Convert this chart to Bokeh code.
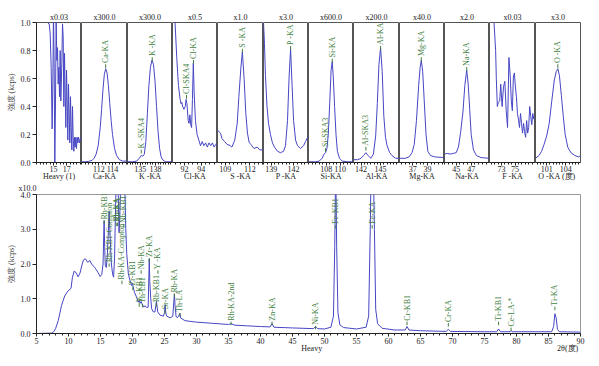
import numpy as np
from bokeh.plotting import figure
from bokeh.layouts import column, row
from bokeh.models import FixedTicker, PrintfTickFormatter, Range1d, LinearAxis
from bokeh.core.properties import value
from bokeh.embed import file_html
from bokeh.resources import INLINE

# ---------------- data ----------------
panel_names = ["Heavy (1)", "Ca-KA", "K -KA", "Cl-KA", "S -KA", "P -KA",
               "Si-KA", "Al-KA", "Mg-KA", "Na-KA", "F -KA", "O -KA  (度)"]
panel_scales = ["x0.03", "x300.0", "x300.0", "x0.5", "x1.0", "x3.0",
                "x600.0", "x200.0", "x40.0", "x2.0", "x0.03", "x3.0"]
panel_ticks = [[15, 17], [112, 114], [135, 138], [92, 94], [109, 112], [139, 142],
               [108, 110], [142, 145], [37, 39], [45, 47], [73, 75], [101, 104]]

heavy1_x = [14.15, 14.36, 14.5, 14.65, 14.8, 14.9, 15.0, 15.1, 15.2, 15.3,
            15.4, 15.5, 15.6, 15.7, 15.8, 15.9, 16.0, 16.1, 16.25, 16.35,
            16.45, 16.55, 16.65, 16.75, 16.85, 16.95, 17.05, 17.15, 17.25, 17.35,
            17.45, 17.55, 17.65, 17.75, 17.85, 17.95, 18.05, 18.15, 18.25, 18.35,
            18.45, 18.55, 18.65, 18.75, 18.9, 19.05]
heavy1_y = [0.995, 0.99, 0.92, 0.68, 0.24, 0.56, 1.09, 0.68, 0.0, 0.44,
            1.01, 0.73, 0.82, 0.56, 0.68, 0.47, 0.8, 0.44, 0.71, 0.99,
            0.9, 0.4, 0.78, 0.5, 0.25, 0.66, 0.44, 0.16, 0.56, 0.35,
            0.14, 0.47, 0.25, 0.09, 0.4, 0.18, 0.08, 0.18, 0.11, 0.18,
            0.1, 0.18, 0.14, 0.18, 0.14, 0.18]

ca_x = [109.45, 110.0, 110.5, 111.0, 111.3, 111.6, 111.9, 112.2, 112.4, 112.6, 112.8,
        113.0, 113.2, 113.4, 113.6, 113.8, 114.0, 114.3, 114.6, 115.0, 115.5, 116.2]
ca_y = [0.005, 0.005, 0.008, 0.015, 0.03, 0.06, 0.12, 0.25, 0.38, 0.52, 0.63,
        0.67, 0.64, 0.55, 0.42, 0.30, 0.20, 0.10, 0.05, 0.02, 0.01, 0.01]

k_x = [132.5, 133.5, 134.3, 134.8, 135.2, 135.5, 135.8, 136.1, 136.4, 136.7, 137.0,
       137.3, 137.6, 137.9, 138.2, 138.5, 138.8, 139.1, 139.5, 140.0, 141.33]
k_y = [0.005, 0.005, 0.01, 0.03, 0.05, 0.045, 0.06, 0.15, 0.35, 0.55, 0.68,
       0.73, 0.70, 0.58, 0.40, 0.22, 0.10, 0.04, 0.015, 0.005, 0.005]

cl_x = [90.6, 90.9, 91.1, 91.3, 91.5, 91.6, 91.7, 91.8, 91.95, 92.1,
        92.2, 92.3, 92.45, 92.55, 92.65, 92.75, 92.85, 92.95, 93.05, 93.15,
        93.3, 93.5, 93.7, 93.9, 94.1, 94.3, 94.5, 94.7, 94.9, 95.1,
        95.3, 95.5, 95.7, 95.9]
cl_y = [1.3, 1.0, 0.75, 0.55, 0.45, 0.42, 0.43, 0.40, 0.38, 0.40,
        0.45, 0.42, 0.30, 0.28, 0.34, 0.27, 0.25, 0.45, 0.71, 0.50,
        0.30, 0.20, 0.16, 0.12, 0.15, 0.12, 0.14, 0.11, 0.14, 0.12,
        0.14, 0.11, 0.13, 0.12]

s_x = [108.04, 108.4, 108.6, 108.9, 109.2, 109.6, 109.8, 110.15, 110.45, 110.65, 110.9,
       111.08, 111.3, 111.5, 111.7, 111.9, 112.1, 112.5, 112.9, 113.2, 113.66]
s_y = [0.23, 0.21, 0.17, 0.15, 0.13, 0.12, 0.11, 0.16, 0.28, 0.47, 0.68,
       0.79, 0.59, 0.35, 0.21, 0.145, 0.13, 0.10, 0.11, 0.09, 0.09]

p_x = [137.97, 138.1, 138.23, 138.44, 138.64, 138.9, 139.17, 139.44, 139.85, 140.25, 140.65,
       140.92, 141.19, 141.39, 141.6, 141.8, 142.0, 142.27, 142.53, 142.94, 143.34, 143.6, 144.0]
p_y = [1.0, 0.85, 0.62, 0.40, 0.28, 0.20, 0.14, 0.11, 0.08, 0.07, 0.08,
       0.12, 0.30, 0.60, 0.81, 0.55, 0.30, 0.16, 0.12, 0.10, 0.12, 0.15, 0.19]

si_x = [105.47, 106.5, 107.0, 107.4, 107.7, 107.9, 108.1, 108.3, 108.5, 108.7,
        108.86, 109.0, 109.2, 109.4, 109.6, 109.9, 110.3, 111.0, 111.9]
si_y = [0.005, 0.005, 0.01, 0.03, 0.06, 0.07, 0.10, 0.20, 0.42, 0.66,
        0.72, 0.62, 0.40, 0.20, 0.08, 0.03, 0.01, 0.005, 0.005]

al_x = [140.85, 141.5, 142.0, 142.4, 142.75, 143.1, 143.5, 143.9, 144.25, 144.5,
        144.75, 145.0, 145.25, 145.5, 145.75, 146.0, 146.4, 146.75, 147.3, 147.9]
al_y = [0.02, 0.02, 0.03, 0.05, 0.07, 0.05, 0.03, 0.06, 0.19, 0.42,
        0.70, 0.82, 0.65, 0.33, 0.18, 0.12, 0.07, 0.05, 0.03, 0.03]

mg_x = [35.19, 36.0, 36.5, 36.9, 37.2, 37.5, 37.8, 38.0, 38.16, 38.35, 38.55,
        38.8, 39.05, 39.4, 40.0, 41.32]
mg_y = [0.03, 0.03, 0.04, 0.07, 0.13, 0.30, 0.55, 0.68, 0.73, 0.65, 0.45,
        0.20, 0.08, 0.05, 0.04, 0.035]

na_x = [43.44, 43.8, 44.2, 44.6, 45.0, 45.3, 45.6, 45.9, 46.15, 46.4, 46.6,
        46.8, 47.0, 47.3, 47.7, 48.3, 49.44]
na_y = [0.06, 0.065, 0.06, 0.065, 0.07, 0.11, 0.22, 0.36, 0.55, 0.66, 0.56,
        0.38, 0.20, 0.09, 0.05, 0.035, 0.03]

f_x = [71.8, 71.9, 72.15, 72.25, 72.4, 72.55, 72.75, 72.9, 73.1, 73.3, 73.5,
       73.7, 73.9, 74.1, 74.3, 74.45, 74.6, 74.75, 74.9, 75.05, 75.2,
       75.35, 75.5, 75.65, 75.8, 75.95, 76.1, 76.25, 76.4, 76.55, 76.7,
       76.85, 77.0, 77.15, 77.3, 77.45, 77.6, 77.75, 77.95]
f_y = [1.3, 1.01, 0.8, 0.6, 0.4, 0.43, 0.44, 0.56, 0.4, 0.54, 0.58,
       0.37, 0.25, 0.75, 0.61, 0.44, 0.37, 0.61, 0.64, 0.54, 0.47,
       0.35, 0.31, 0.25, 0.35, 0.28, 0.21, 0.28, 0.22, 0.18, 0.3,
       0.21, 0.25, 0.4, 0.33, 0.27, 0.35, 0.31, 0.32]

o_x = [99.25, 99.8, 100.2, 100.6, 101.0, 101.4, 101.8, 102.2, 102.5, 102.75,
       103.0, 103.3, 103.6, 103.9, 104.3, 104.8, 105.4, 106.0, 106.3]
o_y = [0.03, 0.05, 0.08, 0.13, 0.19, 0.28, 0.44, 0.59, 0.65, 0.67,
       0.62, 0.48, 0.33, 0.20, 0.11, 0.07, 0.05, 0.04, 0.05]

panel_x = [heavy1_x, ca_x, k_x, cl_x, s_x, p_x, si_x, al_x, mg_x, na_x, f_x, o_x]
panel_y = [heavy1_y, ca_y, k_y, cl_y, s_y, p_y, si_y, al_y, mg_y, na_y, f_y, o_y]

top_lab_panel = [1, 2, 2, 3, 3, 4, 5, 6, 6, 7, 7, 8, 9, 11]
top_lab_text = ["Ca-KA", "K -SKA4", "K -KA", "Cl-SKA4", "Cl-KA", "S -KA", "P -KA",
                "Si-SKA3", "Si-KA", "Al-SKA3", "Al-KA", "Mg-KA", "Na-KA", "O -KA"]
top_lab_x = [113.0, 135.2, 137.35, 92.25, 93.08, 111.08, 141.6,
             107.9, 108.86, 142.75, 145.0, 38.16, 46.4, 102.75]
top_lab_y = [0.71, 0.10, 0.76, 0.49, 0.74, 0.82, 0.84,
             0.11, 0.75, 0.12, 0.84, 0.76, 0.69, 0.71]

heavy_pts = [
    (5.0, 0.0), (6.0, 0.005), (7.0, 0.01), (7.4, 0.01), (7.7, 0.05), (8.0, 0.15),
    (8.4, 0.37), (8.9, 0.8), (9.4, 1.08), (9.9, 1.22), (10.4, 1.3), (10.6, 1.6),
    (10.9, 1.8), (11.2, 1.74), (11.5, 1.63), (11.8, 1.74), (12.1, 1.97), (12.35, 2.12),
    (12.65, 2.15), (13.0, 2.05), (13.35, 2.1), (13.6, 2.0), (14.1, 1.9), (14.6, 1.76),
    (14.95, 1.64), (15.2, 1.7), (15.4, 2.0), (15.5, 2.8), (15.57, 3.25), (15.65, 2.5),
    (15.75, 1.95), (15.9, 1.9), (16.05, 2.2), (16.2, 2.8), (16.35, 3.52), (16.5, 2.8),
    (16.7, 2.0), (16.9, 1.7), (17.05, 1.62), (17.2, 2.2), (17.35, 3.6), (17.45, 4.4),
    (17.6, 4.6), (17.75, 4.2), (17.9, 2.9), (18.0, 3.3), (18.15, 4.3), (18.35, 4.8),
    (18.6, 4.6), (18.8, 4.2), (18.95, 3.0), (19.1, 2.3), (19.35, 1.72), (19.6, 1.53),
    (19.85, 1.38), (20.0, 1.45), (20.1, 1.35), (20.3, 1.19), (20.65, 1.04), (20.9, 0.9),
    (21.05, 0.95), (21.2, 0.87), (21.35, 0.92), (21.5, 0.85), (21.75, 0.76), (21.95, 0.8),
    (22.2, 0.75), (22.45, 0.76), (22.55, 1.6), (22.62, 2.15), (22.7, 1.5), (22.85, 1.0),
    (23.0, 0.71), (23.26, 0.62), (23.5, 0.62), (23.65, 0.8), (23.75, 0.92), (23.94, 0.62),
    (24.3, 0.53), (24.83, 0.5), (25.0, 0.6), (25.1, 0.83), (25.2, 0.6), (25.35, 0.5),
    (25.9, 0.45), (26.3, 0.5), (26.45, 0.9), (26.55, 1.14), (26.65, 0.8), (26.8, 0.5),
    (27.0, 0.45), (27.2, 0.5), (27.4, 0.58), (27.5, 0.45), (28.2, 0.37), (29.8, 0.33),
    (32.0, 0.3), (35.0, 0.26), (35.4, 0.28), (36.0, 0.24), (38.0, 0.22), (40.0, 0.2),
    (41.5, 0.19), (41.8, 0.28), (42.1, 0.18), (45.0, 0.16), (48.3, 0.14), (48.6, 0.2),
    (48.9, 0.14), (50.0, 0.13), (51.0, 0.18), (51.4, 0.5), (51.6, 2.5), (51.75, 5.0),
    (51.9, 2.5), (52.1, 0.6), (52.4, 0.25), (53.0, 0.17), (55.0, 0.13), (56.5, 0.18),
    (56.9, 0.5), (57.15, 3.0), (57.3, 5.0), (57.6, 5.0), (57.8, 3.0), (58.0, 0.7),
    (58.3, 0.28), (59.0, 0.15), (61.0, 0.1), (62.6, 0.1), (62.9, 0.2), (63.2, 0.1),
    (65.0, 0.08), (69.0, 0.06), (69.35, 0.12), (69.7, 0.06), (75.0, 0.05), (76.9, 0.05),
    (77.2, 0.13), (77.5, 0.05), (79.0, 0.05), (79.15, 0.08), (79.3, 0.05), (85.5, 0.05),
    (85.8, 0.2), (86.0, 0.57), (86.2, 0.45), (86.4, 0.12), (86.7, 0.05), (90.0, 0.04),
]
heavy_x = [pt[0] for pt in heavy_pts]
heavy_y = [pt[1] for pt in heavy_pts]

bot_lab_text = ["Rh-KB1", "Rh-KB1-Compton", "Rh-KA", "Rh-KA", "Rh-KA-Compton", "Nb-KB1",
                "Zr-KB1", "Y -KB1", "Th-LB1", "Nb-KA", "Zr-KA", "Rb-KB1", "Y -KA",
                "Sr-KA", "Rb-KA", "Th-LA", "Rh-KA-2nd", "Zn-KA", "Ni-KA", "Fe-KB1",
                "Fe-KA", "Cr-KB1", "Cr-KA", "Ti-KB1", "Ce-LA-*", "Ti-KA"]
bot_lab_x = [15.57, 16.35, 17.45, 17.65, 18.35, 18.65,
             20.05, 21.05, 21.55, 21.35, 22.62, 23.72, 23.98,
             25.1, 26.55, 27.4, 35.4, 41.8, 48.6, 51.75,
             57.45, 62.9, 69.35, 77.2, 79.15, 86.0]
bot_lab_y = [3.28, 2.05, 3.22, 3.22, 1.55, 3.18,
             1.38, 0.9, 0.88, 1.85, 2.2, 0.9, 1.85,
             0.7, 1.18, 0.62, 0.37, 0.37, 0.25, 3.15,
             3.15, 0.37, 0.33, 0.37, 0.2, 0.8]

# bottom axis titles: text and the 2θ value they sit under
bottom_titles = {48: "Heavy", 88: "2θ(度)"}

# ---------------- layout / style ----------------
FONT = "Liberation Serif"
BLUE = "#4646c4"
GREEN = "#3f7f3f"
TXT = "#222222"
panel_ranges = [(12.45, 19.2), (109.45, 116.2), (132.5, 141.33), (90.6, 95.9),
                (108.04, 113.66), (137.97, 144.0), (105.47, 111.9), (140.85, 147.9),
                (35.19, 41.32), (43.44, 49.44), (71.25, 78.0), (99.25, 106.3)]
frame_edges = [38, 83, 129, 174, 219, 265, 310, 355, 401, 446, 491, 537, 582]
LEFT = 36


def style_axis(ax):
    ax.axis_line_color = "#222222"
    ax.major_tick_line_color = "#222222"
    ax.minor_tick_line_color = "#222222"
    ax.major_tick_in = 0
    ax.major_tick_out = 3
    ax.minor_tick_in = 0
    ax.minor_tick_out = 2
    ax.major_label_text_font = FONT
    ax.major_label_text_font_size = "8px"
    ax.major_label_text_color = TXT
    ax.major_label_standoff = 0
    ax.axis_label_text_font = FONT
    ax.axis_label_text_font_size = "8px"
    ax.axis_label_text_font_style = "normal"
    ax.axis_label_text_color = TXT
    ax.axis_label_standoff = 0


tops = []
for i in range(12):
    x0, x1 = panel_ranges[i]
    p = figure(frame_width=frame_edges[i + 1] - frame_edges[i], frame_height=140,
               x_range=Range1d(x0, x1), y_range=Range1d(0, 1.0),
               output_backend="svg", toolbar_location=None,
               min_border=0, min_border_top=22, min_border_bottom=19,
               min_border_left=LEFT if i == 0 else 0,
               min_border_right=9 if i == 11 else 0,
               y_axis_location="left" if i == 0 else None,
               title=panel_scales[i])
    p.title.align = "center"
    p.title.text_font = FONT
    p.title.text_font_size = "8px"
    p.title.text_font_style = "normal"
    p.title.text_color = TXT
    p.title.standoff = 1
    p.grid.visible = False
    p.outline_line_color = "#555555"
    p.background_fill_color = "white"
    p.border_fill_color = "white"
    p.xaxis.ticker = FixedTicker(ticks=panel_ticks[i],
                                 minor_ticks=list(np.arange(np.ceil(x0 * 2) / 2, x1, 0.5)))
    p.xaxis.axis_label = panel_names[i]
    style_axis(p.xaxis[0])
    p.xaxis.major_label_standoff = 0
    p.xaxis.axis_label_standoff = -3
    if i == 0:
        p.yaxis.ticker = FixedTicker(ticks=[0, 0.2, 0.4, 0.6, 0.8, 1.0], minor_ticks=[])
        p.yaxis.formatter = PrintfTickFormatter(format="%.1f")
        p.yaxis.axis_label = "強度 (kcps)"
        style_axis(p.yaxis[0])
        p.yaxis.major_tick_out = 4
        p.yaxis.major_label_standoff = 2
        p.yaxis.axis_label_standoff = 2
        p.yaxis.axis_label_text_color = "#444444"
    p.line(panel_x[i], panel_y[i], line_color=BLUE, line_width=1)
    idx = [j for j, q in enumerate(top_lab_panel) if q == i]
    if idx:
        lx = [top_lab_x[j] for j in idx]
        ly = [top_lab_y[j] for j in idx]
        lt = [top_lab_text[j] for j in idx]
        p.segment(x0=lx, y0=[v - 0.035 for v in ly], x1=lx, y1=[v - 0.008 for v in ly],
                  line_color=GREEN, line_width=1)
        p.text(x=lx, y=ly, text=lt, angle=np.pi / 2, text_font=value(FONT),
               text_font_size="8px", text_color=GREEN, text_align="left",
               text_baseline="middle")
    tops.append(p)

pb = figure(frame_width=544, frame_height=139, x_range=Range1d(5, 90), y_range=Range1d(0, 4.0),
            output_backend="svg", toolbar_location=None,
            min_border=0, min_border_left=LEFT, min_border_right=9,
            min_border_top=11, min_border_bottom=20, title="x10.0")
pb.title.align = "left"
pb.title.offset = -18
pb.title.standoff = 0
pb.title.vertical_align = "top"
pb.title.text_font = FONT
pb.title.text_font_size = "8px"
pb.title.text_font_style = "normal"
pb.title.text_color = TXT
pb.grid.visible = False
pb.outline_line_color = "#999999"
pb.xaxis.ticker = FixedTicker(ticks=list(range(5, 91, 5)), minor_ticks=list(range(5, 91)))
style_axis(pb.xaxis[0])
pb.xaxis.major_label_standoff = 1
# second (label-only) axis carrying "Heavy" and "2θ(度)" on the same row
ax2 = LinearAxis(ticker=FixedTicker(ticks=list(bottom_titles.keys()), minor_ticks=[]),
                 major_label_overrides=bottom_titles)
style_axis(ax2)
ax2.axis_line_color = None
ax2.major_tick_line_color = None
ax2.minor_tick_line_color = None
ax2.major_tick_out = 0
ax2.minor_tick_out = 0
ax2.major_label_standoff = -3
pb.add_layout(ax2, "below")
pb.yaxis.ticker = FixedTicker(ticks=[0, 1, 2, 3, 4], minor_ticks=[])
pb.yaxis.formatter = PrintfTickFormatter(format="%.1f")
pb.yaxis.axis_label = "強度 (kcps)"
style_axis(pb.yaxis[0])
pb.yaxis.major_tick_out = 4
pb.yaxis.major_label_standoff = 2
pb.yaxis.axis_label_standoff = 2
pb.yaxis.axis_label_text_color = "#444444"
pb.line(heavy_x, heavy_y, line_color=BLUE, line_width=1)
pb.segment(x0=bot_lab_x, y0=[v - 0.13 for v in bot_lab_y], x1=bot_lab_x,
           y1=[v - 0.03 for v in bot_lab_y], line_color=GREEN, line_width=1)
pb.text(x=bot_lab_x, y=bot_lab_y, text=bot_lab_text, angle=np.pi / 2,
        text_font=value(FONT), text_font_size="8px", text_color=GREEN,
        text_align="left", text_baseline="middle")

layout = column(row(*tops), pb)
open("out.html", "w").write(file_html(layout, INLINE))
